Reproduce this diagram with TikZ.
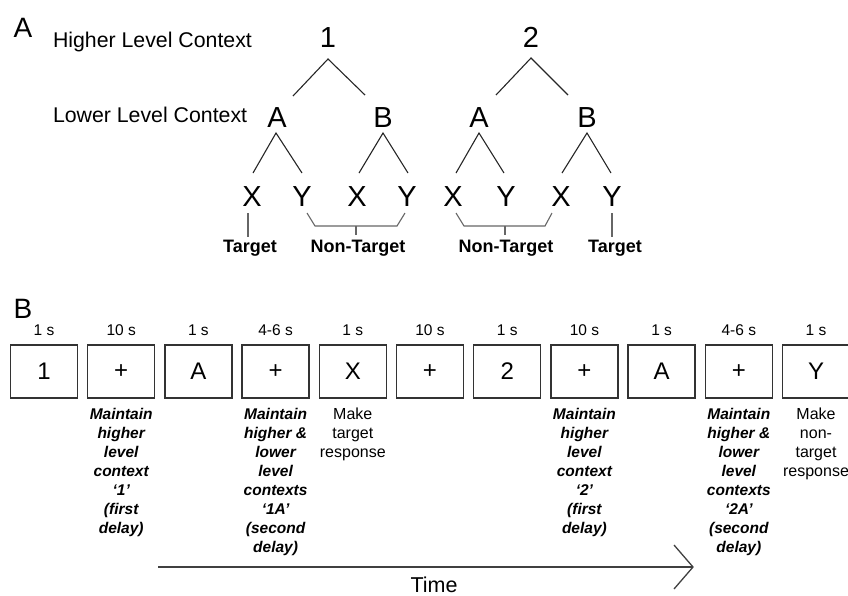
\documentclass[tikz,border=0pt]{standalone}
\usepackage{fontspec}
\setmainfont{Liberation Sans}
\begin{document}
\begin{tikzpicture}[x=1pt,y=-1pt,
  every node/.style={inner sep=0pt, outer sep=0pt},
  treeline/.style={line width=1.1pt, draw=black!85},
  brk/.style={line width=1.1pt, draw=black!60},
  panel/.style={font=\fontsize{28}{30}\selectfont, anchor=base},
  lbl/.style={font=\fontsize{21.3}{24}\selectfont, anchor=base west},
  big/.style={font=\fontsize{29}{30}\selectfont, anchor=base},
  tgt/.style={font=\fontsize{18}{20}\selectfont\bfseries, anchor=base},
  frame/.style={draw=black!80, line width=1.3pt, minimum width=67pt, minimum height=53pt, font=\fontsize{24}{26}\selectfont},
  dur/.style={font=\fontsize{15.5}{17}\selectfont, anchor=base},
  note/.style={font=\fontsize{15.5}{19}\selectfont\bfseries\itshape, align=center, anchor=north},
  plain/.style={font=\fontsize{16}{19}\selectfont, align=center, anchor=north},
  timeline/.style={line width=1.8pt, draw=black!75},
]
\useasboundingbox (0,0) rectangle (848,595);

% ---------- Panel A ----------
\node[panel] (pA) at (23,37) {A};
\node[lbl] (hlc) at (53,47) {Higher Level Context};
\node[lbl] (llc) at (53,122) {Lower Level Context};

\node[big] (one) at (328,47) {1};
\node[big] (two) at (531,47) {2};
\node[big] (A1) at (277,127) {A};
\node[big] (B1) at (383,127) {B};
\node[big] (A2) at (479,127) {A};
\node[big] (B2) at (587,127) {B};
\node[big] (X1) at (252,206) {X};
\node[big] (Y1) at (302,206) {Y};
\node[big] (X2) at (357,206) {X};
\node[big] (Y2) at (407,206) {Y};
\node[big] (X3) at (453,206) {X};
\node[big] (Y3) at (506,206) {Y};
\node[big] (X4) at (561,206) {X};
\node[big] (Y4) at (612,206) {Y};

% tree branch coordinates
\coordinate (o1) at (328,59);  \coordinate (o1l) at (293,96);  \coordinate (o1r) at (365,95);
\coordinate (a1) at (276,133); \coordinate (a1l) at (253,173); \coordinate (a1r) at (302,173);
\coordinate (b1) at (383,133); \coordinate (b1l) at (359,173); \coordinate (b1r) at (408,173);
\coordinate (o2) at (531,58);  \coordinate (o2l) at (496,95);  \coordinate (o2r) at (568,95);
\coordinate (a2) at (479,133); \coordinate (a2l) at (456,173); \coordinate (a2r) at (504,173);
\coordinate (b2) at (587,133); \coordinate (b2l) at (562,173); \coordinate (b2r) at (611,173);
\draw[treeline] (o1l) -- (o1) -- (o1r);
\draw[treeline] (a1l) -- (a1) -- (a1r);
\draw[treeline] (b1l) -- (b1) -- (b1r);
\draw[treeline] (o2l) -- (o2) -- (o2r);
\draw[treeline] (a2l) -- (a2) -- (a2r);
\draw[treeline] (b2l) -- (b2) -- (b2r);

% target / non-target labels
\node[tgt] (T1) at (250,252) {Target};
\node[tgt] (N1) at (358,252) {Non-Target};
\node[tgt] (N2) at (506,252) {Non-Target};
\node[tgt] (T2) at (615,252) {Target};

\coordinate (t1a) at (248,213); \coordinate (t1b) at (248,237);
\coordinate (t2a) at (612,213); \coordinate (t2b) at (612,237);
\draw[brk] (t1a) -- (t1b);
\draw[brk] (t2a) -- (t2b);

\coordinate (n1a) at (307,213); \coordinate (n1b) at (315,226);
\coordinate (n1c) at (397,226); \coordinate (n1d) at (405,213);
\coordinate (n1m) at (356,226); \coordinate (n1t) at (356,235);
\draw[brk] (n1a) -- (n1b) -- (n1c) -- (n1d);
\draw[brk] (n1m) -- (n1t);
\coordinate (n2a) at (456,213); \coordinate (n2b) at (464,226);
\coordinate (n2c) at (545,226); \coordinate (n2d) at (552,213);
\coordinate (n2m) at (505,226); \coordinate (n2t) at (505,235);
\draw[brk] (n2a) -- (n2b) -- (n2c) -- (n2d);
\draw[brk] (n2m) -- (n2t);

% ---------- Panel B ----------
\node[panel] (pB) at (23,318) {B};

\foreach \i/\txt/\d in {0/1/1 s, 1/+/10 s, 2/A/1 s, 3/+/4-6 s, 4/X/1 s, 5/+/10 s, 6/2/1 s, 7/+/10 s, 8/A/1 s, 9/+/4-6 s, 10/Y/1 s}{
  \node[frame] (box\i) at ({44+77.2*\i},371.5) {\txt};
  \node[dur] (dur\i) at ({44+77.2*\i},335.5) {\d};
}

\node[note] (m1) at ([yshift=-10pt]box1.south) {Maintain\\higher\\level\\context\\‘1’\\(first\\delay)};
\node[note] (m3) at ([yshift=-10pt]box3.south) {Maintain\\higher \&\\lower\\level\\contexts\\‘1A’\\(second\\delay)};
\node[plain] (r4) at ([yshift=-10pt]box4.south) {Make\\target\\response};
\node[note] (m7) at ([yshift=-10pt]box7.south) {Maintain\\higher\\level\\context\\‘2’\\(first\\delay)};
\node[note] (m9) at ([yshift=-10pt]box9.south) {Maintain\\higher \&\\lower\\level\\contexts\\‘2A’\\(second\\delay)};
\node[plain] (r10) at ([yshift=-10pt]box10.south) {Make\\non-\\target\\response};

% time arrow
\coordinate (ts) at (158,567);
\coordinate (te) at (693,567);
\coordinate (tu) at (674,545);
\coordinate (td) at (674,589);
\draw[timeline] (ts) -- (te);
\draw[timeline, line width=1.3pt] (tu) -- (te) -- (td);
\node[font=\fontsize{21.5}{24}\selectfont, anchor=base] (time) at (434,592) {Time};
\end{tikzpicture}
\end{document}
